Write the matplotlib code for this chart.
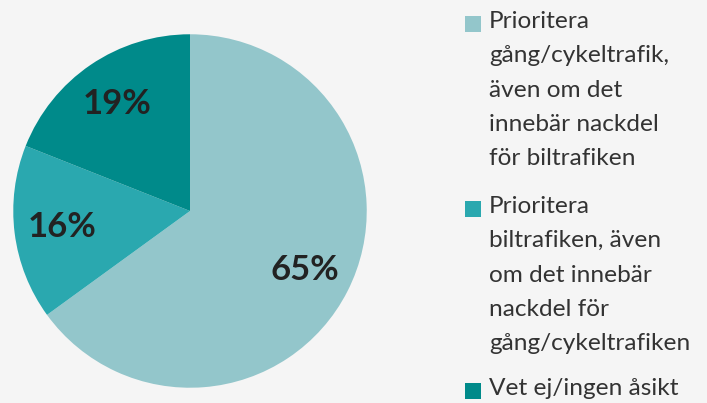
import matplotlib.pyplot as plt
from matplotlib.patches import Rectangle

# survey answers, share in percent
labels = [
    "Prioritera\ngång/cykeltrafik,\näven om det\ninnebär nackdel\nför biltrafiken",
    "Prioritera\nbiltrafiken, även\nom det innebär\nnackdel för\ngång/cykeltrafiken",
    "Vet ej/ingen åsikt",
]
shares = [65, 16, 19]
colors = ["#93C6CB", "#2AA8AF", "#008A8A"]

bg = "#F5F5F5"
fig = plt.figure(figsize=(7.07, 4.03), dpi=100, facecolor=bg)

W, H = 707, 403
cx, cy, r = 190, 211, 178.5
ax = fig.add_axes([(cx - r) / W, (H - cy - r) / H, 2 * r / W, 2 * r / H])
ax.set_facecolor(bg)

wedges, texts, pcts = ax.pie(
    shares, colors=colors, startangle=90, counterclock=False,
    autopct="%d%%", pctdistance=0.73, radius=1,
    wedgeprops=dict(linewidth=0),
    textprops=dict(fontsize=25, fontweight="bold", color="#222222", family="Lato"),
)
ax.set_xlim(-1.01, 1.01)
ax.set_ylim(-1.01, 1.01)
ax.set_aspect("equal")
ax.axis("off")

# legend drawn by hand so the squares sit on the first line of each label
tops = [15, 200, 382]
for lab, col, top in zip(labels, colors, tops):
    fig.patches.append(Rectangle((465 / W, 1 - (top + 17) / H), 16 / W, 16 / H,
                                 transform=fig.transFigure, facecolor=col,
                                 edgecolor="none"))
    fig.text(489 / W, 1 - (top - 4) / H, lab, ha="left", va="top",
             fontsize=17.6, color="#333333", family="Lato", linespacing=1.78)

fig.savefig("out.png", dpi=100, facecolor=bg)
